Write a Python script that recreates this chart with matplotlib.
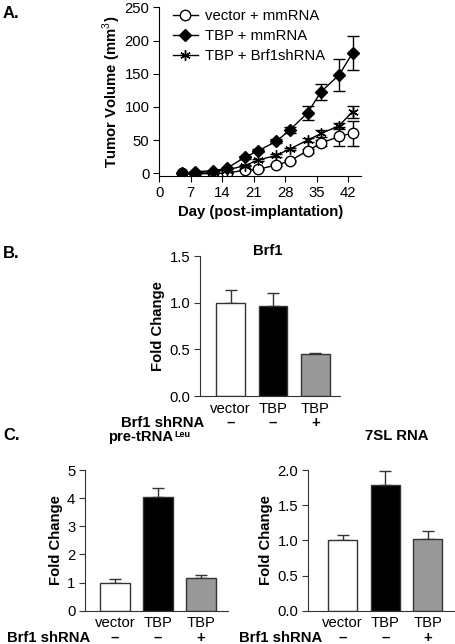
import matplotlib
matplotlib.use("Agg")
import matplotlib.pyplot as plt
from matplotlib.lines import Line2D
from matplotlib.transforms import blended_transform_factory
import numpy as np

plt.rcParams['font.family'] = ['Liberation Sans', 'DejaVu Sans']
plt.rcParams['mathtext.fontset'] = 'custom'
plt.rcParams['mathtext.rm'] = 'Liberation Sans'
plt.rcParams['mathtext.bf'] = 'Liberation Sans:bold'

# Panel A: tumor growth curves
days = [5, 8, 12, 15, 19, 22, 26, 29, 33, 36, 40, 43]
vec_mm = [0, -1, 0, 0, 5, 6, 12.5, 18.5, 34, 45.5, 55.5, 60.5]
vec_mm_err = [0, 0, 0, 0, 1, 1, 2, 2, 3, 5, 15, 19]
tbp_mm = [0, 2.5, 4, 7.5, 24, 34, 48, 65, 91, 123, 148, 181]
tbp_mm_err = [0, 0, 0, 1, 2, 2, 3, 5, 11, 12, 24, 26]
tbp_sh = [0, 1, 2.5, 5, 11.5, 20, 27, 36.5, 50, 60, 71.5, 93]
tbp_sh_err = [0, 0, 0, 1, 1, 1, 2, 2, 3, 6, 5, 9]
series_names = ["vector + mmRNA", "TBP + mmRNA", "TBP + Brf1shRNA"]

# Panels B and C: fold change bars
groups = ["vector", "TBP", "TBP"]
shrna = ["\u2013", "\u2013", "+"]
brf1 = [1.0, 0.96, 0.45]
brf1_err = [0.135, 0.14, 0.01]
trna = [1.0, 4.05, 1.15]
trna_err = [0.11, 0.30, 0.12]
rna7sl = [1.0, 1.79, 1.02]
rna7sl_err = [0.07, 0.20, 0.12]
bar_colors = ["white", "black", "#999999"]

W, H = 456, 644
fig = plt.figure(figsize=(W / 100, H / 100), dpi=100)


def px_axes(x0, y0, x1, y1):
    return fig.add_axes([x0 / W, 1 - y1 / H, (x1 - x0) / W, (y1 - y0) / H])


FS = 10.7
axc = "#333333"

# ---- Panel A ----
ax = px_axes(159.3, 7.3, 361.5, 176)
styles = [dict(marker="o", mfc="white", ms=7.5),
          dict(marker="D", mfc="black", ms=6),
          dict(marker=(6, 2, 0), mfc="black", ms=7.5)]
handles = []
for vals, errs, st, name in zip([vec_mm, tbp_mm, tbp_sh],
                                [vec_mm_err, tbp_mm_err, tbp_sh_err],
                                styles, series_names):
    ax.errorbar(days, vals, yerr=errs, color="black", lw=1, capsize=4,
                elinewidth=1, capthick=1, **st)
    handles.append(Line2D([], [], color="black", lw=1, label=name, **st))
ax.set_xlim(0, 45)
ax.set_ylim(-4, 250)
ax.set_xticks(range(0, 43, 7))
ax.set_yticks(range(0, 251, 50))
for s in ["top", "right"]:
    ax.spines[s].set_visible(False)
ax.tick_params(labelsize=FS, length=4, direction="out", pad=3)
ax.set_xlabel("Day (post-implantation)", fontsize=FS, fontweight="bold", labelpad=4)
ax.set_ylabel("Tumor Volume (mm$^3$)", fontsize=FS, fontweight="bold", labelpad=1)
ax.legend(handles=handles, loc="upper left", bbox_to_anchor=(0.0, 1.07), frameon=False,
          fontsize=FS, handlelength=1.7, handletextpad=0.5, labelspacing=0.4)
fig.text(3 / W, 1 - 13 / H, "A.", fontsize=12, fontweight="bold", va="center")


def bar_panel(ax, vals, errs, title, ymax, yticks, fmt, title_x_px, title_y_px,
              sup=None):
    x = np.arange(len(vals))
    ax.bar(x, vals, width=0.68, color=bar_colors, edgecolor=axc, linewidth=1, zorder=2)
    ax.errorbar(x, vals, yerr=[np.zeros(len(errs)), errs], fmt="none", ecolor=axc,
                elinewidth=1, capsize=4.5, capthick=1, zorder=1)
    ax.set_ylim(0, ymax)
    ax.set_yticks(yticks)
    ax.set_yticklabels([fmt.format(v) for v in yticks])
    ax.set_xticks(x)
    ax.set_xticklabels(groups)
    for s in ["top", "right"]:
        ax.spines[s].set_visible(False)
    for s in ["left", "bottom"]:
        ax.spines[s].set_color(axc)
    ax.tick_params(axis="y", labelsize=FS, length=4, color=axc, pad=3)
    ax.tick_params(axis="x", labelsize=FS, length=0, pad=4)
    ax.set_ylabel("Fold Change", fontsize=FS, fontweight="bold", labelpad=3)
    t = fig.text(title_x_px / W, 1 - title_y_px / H, title, ha="center",
                 va="center", fontsize=FS, fontweight="bold")
    if sup:
        fig.text(0, 0, "")  # placeholder keeps layout simple
        ax.annotate(sup, xy=(1, 1), xycoords=t, xytext=(0.5, 0),
                    textcoords="offset points", ha="left", va="top",
                    fontsize=6.5, fontweight="bold")


def shrna_row(ax, y_px, label_right_px):
    tr = blended_transform_factory(ax.transData, fig.transFigure)
    for xi, s in enumerate(shrna):
        ax.text(xi, 1 - y_px / H, s, transform=tr, ha="center", va="center",
                fontsize=FS, fontweight="bold")
    fig.text(label_right_px / W, 1 - y_px / H, "Brf1 shRNA", ha="right", va="center",
             fontsize=FS, fontweight="bold")


# ---- Panel B ----
axb = px_axes(200, 256, 340, 396)
bar_panel(axb, brf1, brf1_err, "Brf1", 1.5, [0, 0.5, 1.0, 1.5], "{:.1f}", 268, 251)
axb.set_xlim(-0.72, 2.58)
shrna_row(axb, 423, 204)
fig.text(3 / W, 1 - 254 / H, "B.", fontsize=12, fontweight="bold", va="center")

# ---- Panel C ----
axc1 = px_axes(85, 470, 228, 610.7)
bar_panel(axc1, trna, trna_err, "pre-tRNA", 5, [0, 1, 2, 3, 4, 5],
          "{:d}", 141, 437, sup="Leu")
axc1.set_xlim(-0.70, 2.63)
shrna_row(axc1, 638, 90)

axc2 = px_axes(308, 470, 486, 610.7)
bar_panel(axc2, rna7sl, rna7sl_err, "7SL RNA", 2.0, [0, 0.5, 1.0, 1.5, 2.0], "{:.1f}",
          397, 436)
axc2.set_xlim(-0.81, 3.36)
shrna_row(axc2, 638, 322)
fig.text(3 / W, 1 - 435 / H, "C.", fontsize=12, fontweight="bold", va="center")

fig.savefig("out.png", dpi=100)
